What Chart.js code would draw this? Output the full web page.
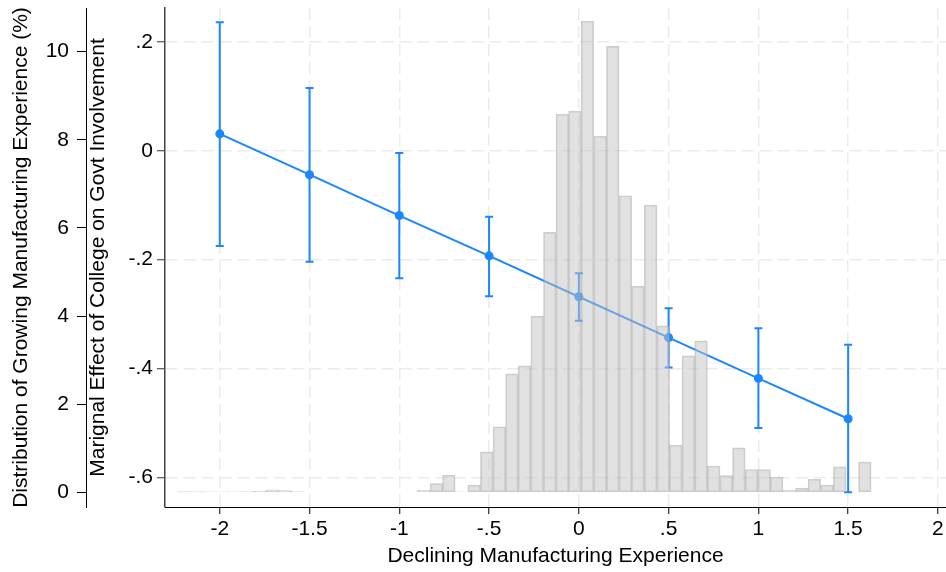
<!DOCTYPE html>
<html>
<head>
<meta charset="utf-8">
<script src="https://cdn.jsdelivr.net/npm/chart.js@4.4.1/dist/chart.umd.min.js"></script>
<style>
  html, body { margin: 0; padding: 0; background: #ffffff; }
  #wrap { width: 946px; height: 572px; }
</style>
</head>
<body>
<div id="wrap"><canvas id="chart" width="946" height="572"></canvas></div>
<script>
// Values of declining manufacturing experience at which the margin is evaluated
const experienceLevels = [-2, -1.5, -1, -0.5, 0, 0.5, 1, 1.5];
// Marginal effect of college and its 95% confidence bounds
const marginalEffect = [0.031, -0.044, -0.119, -0.193, -0.268, -0.343, -0.418, -0.492];
const ciLower = [-0.175, -0.204, -0.234, -0.267, -0.312, -0.398, -0.509, -0.627];
const ciUpper = [0.236, 0.115, -0.004, -0.121, -0.225, -0.289, -0.326, -0.356];

// Histogram of the moderator: bin centres and percent of observations per bin
const binCenters = [
  -2.198, -2.128, -2.058, -1.987, -1.917, -1.847, -1.777, -1.707, -1.636, -1.566,
  -1.496, -1.426, -1.356, -1.285, -1.215, -1.145, -1.075, -1.005, -0.934, -0.864,
  -0.794, -0.724, -0.654, -0.583, -0.513, -0.443, -0.373, -0.303, -0.232, -0.162,
  -0.092, -0.022, 0.048, 0.119, 0.189, 0.259, 0.329, 0.400, 0.470, 0.540,
  0.610, 0.681, 0.751, 0.821, 0.891, 0.961, 1.032, 1.102, 1.172, 1.242,
  1.312, 1.383, 1.453, 1.523, 1.593
];
const binPercent = [
  0.02, 0.02, 0.01, 0.01, 0.01, 0.02, 0.03, 0.06, 0.04, 0.02,
  0, 0, 0, 0, 0, 0, 0, 0, 0, 0.05,
  0.20, 0.39, 0.01, 0.17, 0.92, 1.49, 2.69, 2.87, 4.00, 5.90,
  8.58, 8.65, 10.69, 8.08, 10.12, 6.73, 4.68, 6.52, 3.78, 1.07,
  3.10, 3.44, 0.60, 0.38, 1.01, 0.52, 0.52, 0.35, 0.05, 0.10,
  0.30, 0.17, 0.58, 0, 0.69
];

// Axis ticks and their labels
const xTicks = [-2, -1.5, -1, -0.5, 0, 0.5, 1, 1.5, 2];
const xTickLabels = ['-2', '-1.5', '-1', '-.5', '0', '.5', '1', '1.5', '2'];
const effectTicks = [-0.6, -0.4, -0.2, 0, 0.2];
const effectTickLabels = ['-.6', '-.4', '-.2', '0', '.2'];
const pctTicks = [0, 2, 4, 6, 8, 10];
const pctTickLabels = ['0', '2', '4', '6', '8', '10'];

const BLUE = '#1c86ff';
const FONT = { family: "'Liberation Sans', Arial, sans-serif", size: 21 };
const TITLE_FONT = { family: "'Liberation Sans', Arial, sans-serif", size: 21, lineHeight: 1 };
const GRID = { color: '#ebebeb', lineWidth: 1.5, tickBorderDash: [] };

// Vertical confidence-interval bars with caps, drawn beneath the histogram
const ciBars = {
  id: 'ciBars',
  beforeDatasetsDraw(chart) {
    const { ctx, chartArea, scales } = chart;
    const xs = scales.x, ys = scales.y;
    ctx.save();
    ctx.beginPath();
    ctx.rect(chartArea.left, chartArea.top, chartArea.right - chartArea.left, chartArea.bottom - chartArea.top);
    ctx.clip();
    ctx.strokeStyle = BLUE;
    ctx.lineWidth = 2;
    experienceLevels.forEach((lvl, i) => {
      const px = xs.getPixelForValue(lvl);
      const yLo = ys.getPixelForValue(ciLower[i]);
      const yHi = ys.getPixelForValue(ciUpper[i]);
      const cap = 4;
      ctx.beginPath();
      ctx.moveTo(px, yLo); ctx.lineTo(px, yHi);
      ctx.moveTo(px - cap, yLo); ctx.lineTo(px + cap, yLo);
      ctx.moveTo(px - cap, yHi); ctx.lineTo(px + cap, yHi);
      ctx.stroke();
    });
    ctx.restore();
  }
};

new Chart(document.getElementById('chart'), {
  data: {
    datasets: [
      {
        type: 'bar',
        label: 'Distribution',
        yAxisID: 'yPct',
        order: 0,
        data: binCenters.map((c, i) => ({ x: c, y: binPercent[i] })),
        backgroundColor: 'rgba(195,195,195,0.5)',
        borderColor: 'rgba(160,160,160,0.5)',
        borderWidth: 1,
        borderSkipped: false,
        categoryPercentage: 1.0,
        barPercentage: 1.0
      },
      {
        type: 'line',
        label: 'Marginal effect',
        yAxisID: 'y',
        order: 1,
        data: experienceLevels.map((lvl, i) => ({ x: lvl, y: marginalEffect[i] })),
        borderColor: BLUE,
        borderWidth: 2,
        backgroundColor: BLUE,
        pointRadius: 4.5,
        pointBorderWidth: 0,
        pointBackgroundColor: BLUE,
        tension: 0,
        fill: false
      }
    ]
  },
  options: {
    responsive: false,
    animation: false,
    devicePixelRatio: 1,
    layout: { autoPadding: false, padding: { top: 8, right: 0, bottom: 0, left: 0 } },
    plugins: { legend: { display: false }, tooltip: { enabled: false } },
    scales: {
      x: {
        type: 'linear',
        position: 'bottom',
        offset: false,
        min: -2.305,
        max: 2.045,
        afterBuildTicks: s => { s.ticks = xTicks.map(v => ({ value: v })); },
        afterFit: s => { s.height = 65; s.paddingLeft = 0; s.paddingRight = 0; },
        ticks: {
          callback: (v, i) => xTickLabels[i],
          font: FONT, color: '#000', padding: 3,
          maxRotation: 0, autoSkip: false
        },
        grid: Object.assign({}, GRID, { offset: false, drawTicks: true, tickLength: 7, tickColor: '#000', tickWidth: 1 }),
        border: { display: true, color: '#000', width: 1, dash: [12, 6] },
        title: {
          display: true, text: 'Declining Manufacturing Experience',
          font: TITLE_FONT, color: '#000',
          padding: { top: 0, bottom: 5 }
        }
      },
      y: {
        type: 'linear',
        position: 'left',
        weight: 0,
        min: -0.654,
        max: 0.262,
        afterBuildTicks: s => { s.ticks = effectTicks.map(v => ({ value: v })); },
        afterFit: s => { s.width = 79; s.paddingTop = 0; s.paddingBottom = 0; },
        ticks: {
          callback: (v, i) => effectTickLabels[i],
          font: FONT, color: '#000', padding: 4
        },
        grid: Object.assign({}, GRID, { drawTicks: true, tickLength: 8, tickColor: '#333', tickWidth: 1 }),
        border: { display: true, color: '#444', width: 1.5, dash: [12, 6] },
        title: {
          display: true, text: 'Marignal Effect of College on Govt Involvement',
          font: TITLE_FONT, color: '#000',
          padding: { top: 2, bottom: 0 }
        }
      },
      yPct: {
        type: 'linear',
        position: 'left',
        weight: 1,
        min: -0.33,
        max: 10.99,
        afterBuildTicks: s => { s.ticks = pctTicks.map(v => ({ value: v })); },
        afterFit: s => { s.width = 86; s.paddingTop = 0; s.paddingBottom = 0; },
        ticks: {
          callback: (v, i) => pctTickLabels[i],
          font: FONT, color: '#000', padding: 8
        },
        grid: { display: true, drawOnChartArea: false, drawTicks: true, tickLength: 9, tickColor: '#000', tickWidth: 1 },
        border: { display: true, color: '#000', width: 1 },
        title: {
          display: true, text: 'Distribution of Growing Manufacturing Experience (%)',
          font: TITLE_FONT, color: '#000',
          padding: { top: 11, bottom: 0 }
        }
      }
    }
  },
  plugins: [ciBars]
});
</script>
</body>
</html>
